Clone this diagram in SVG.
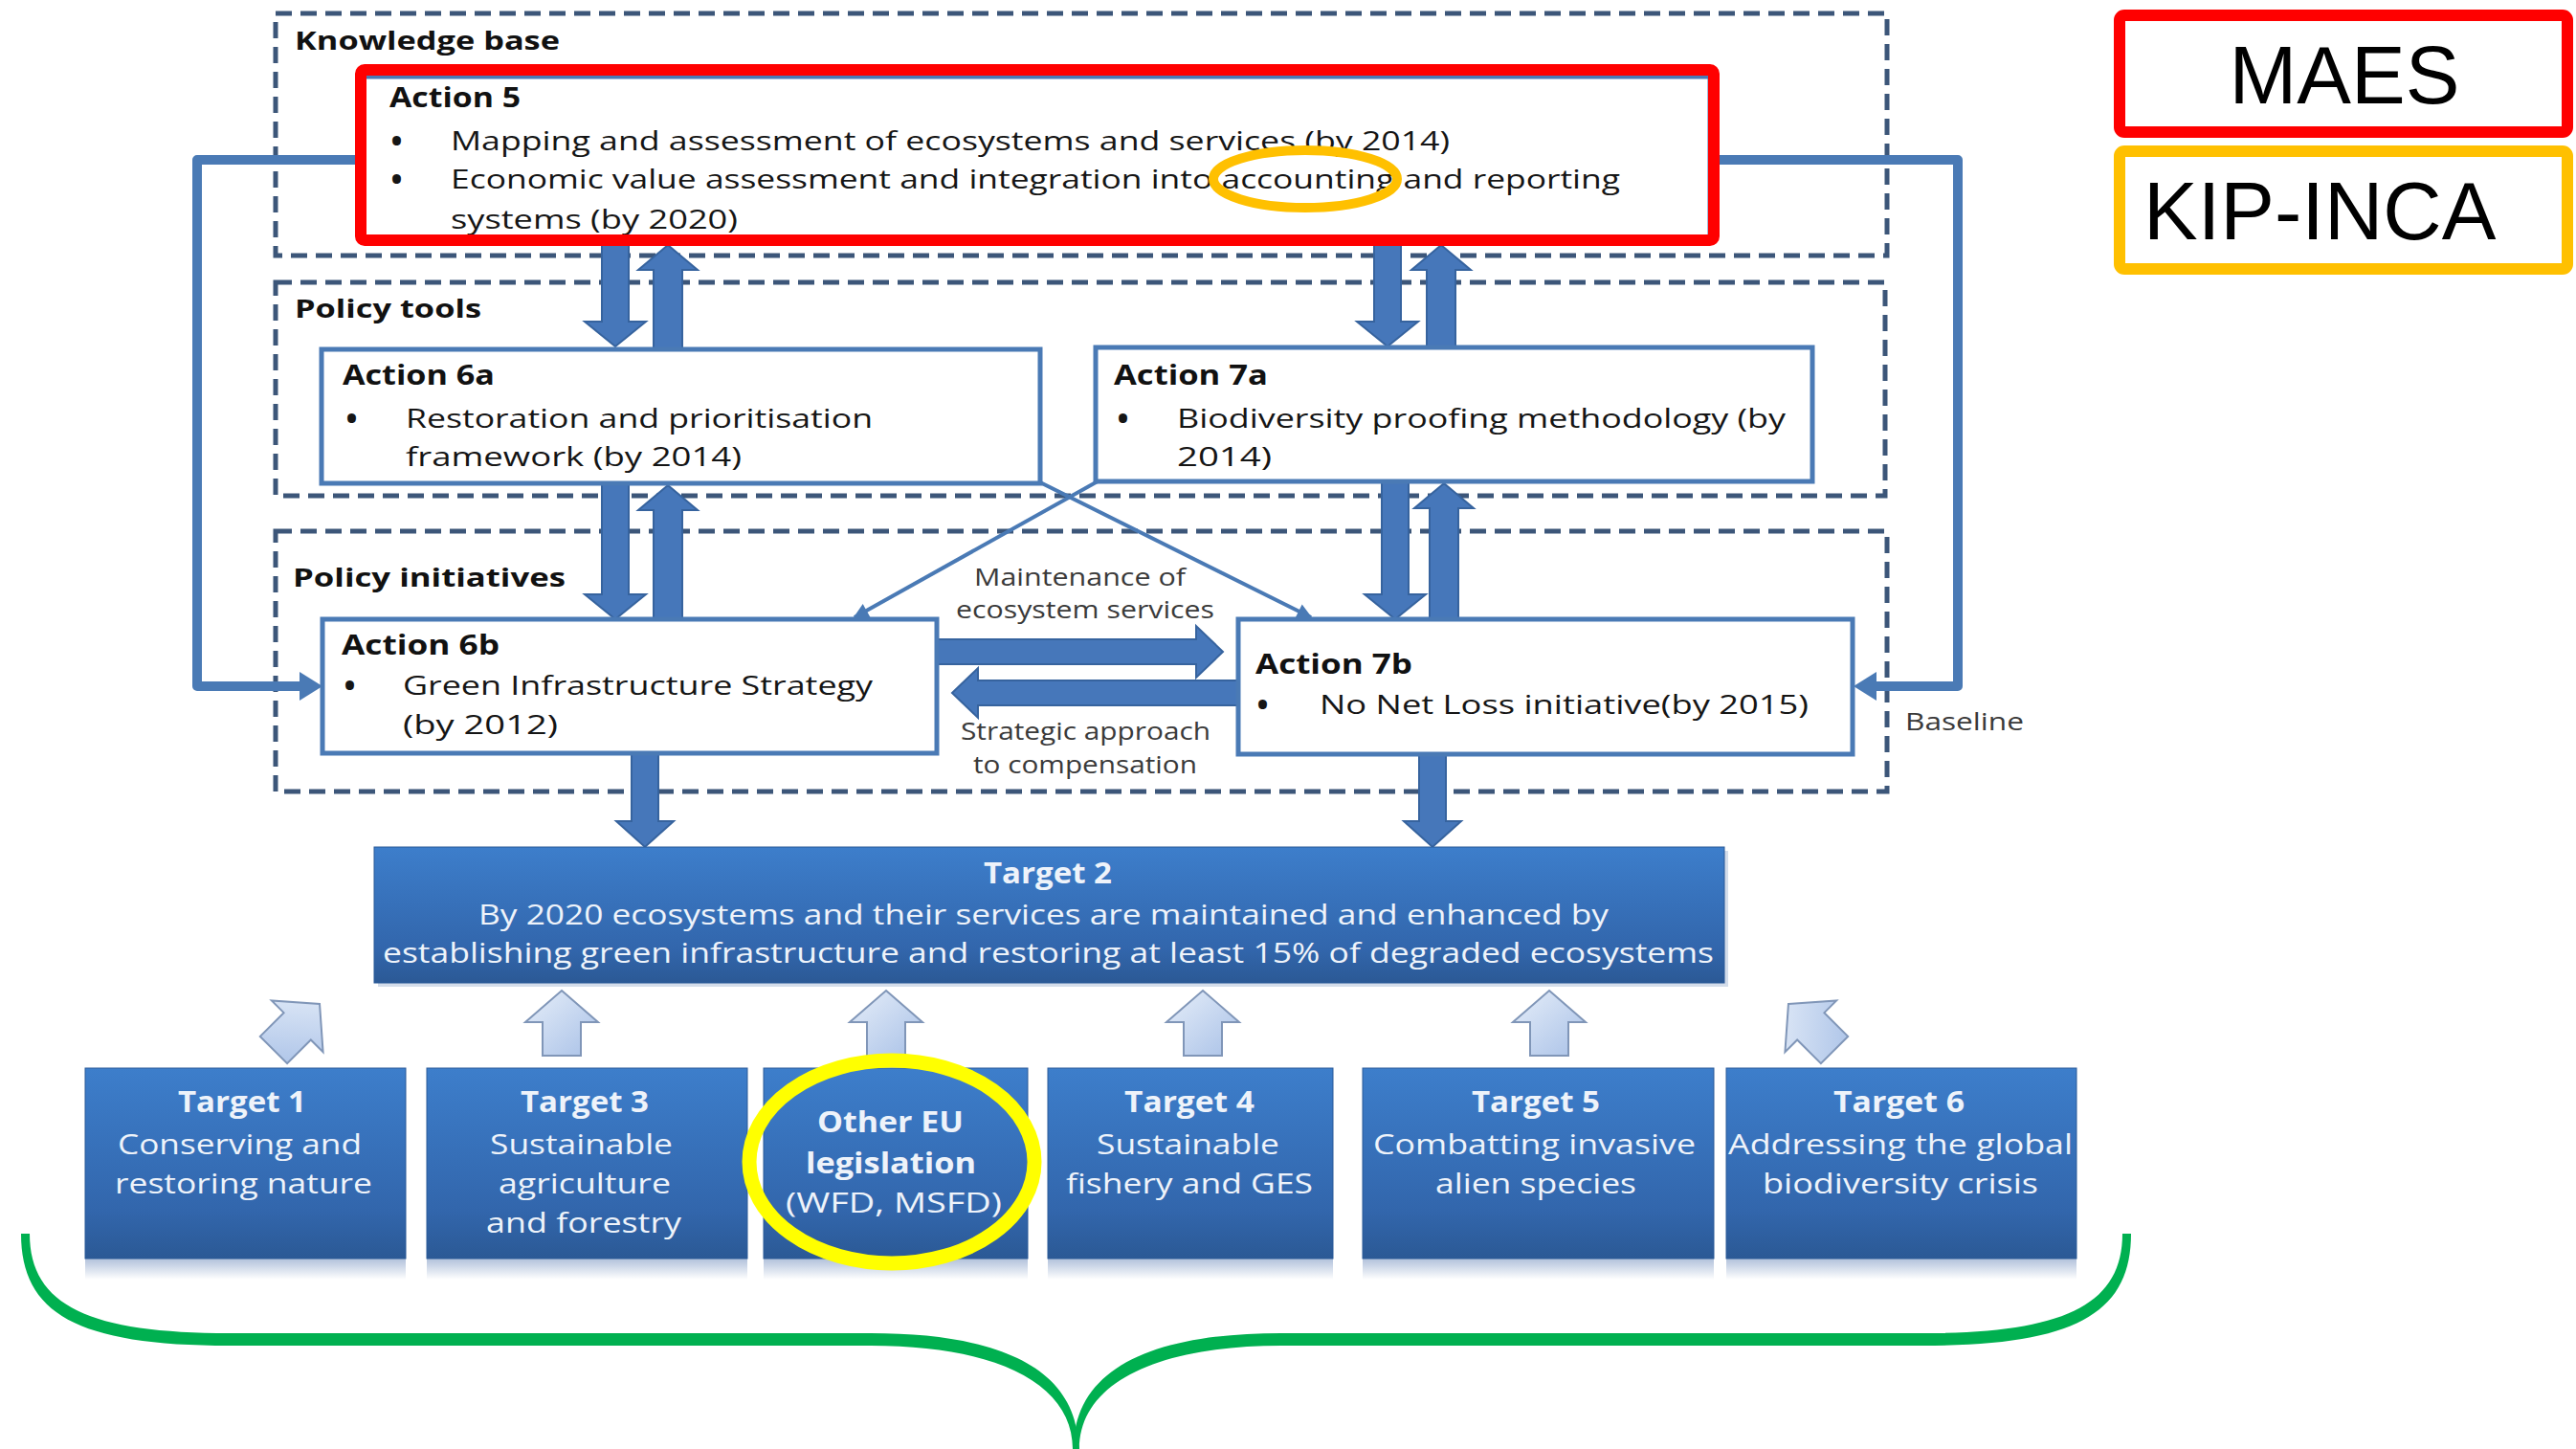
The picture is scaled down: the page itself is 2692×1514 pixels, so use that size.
<svg xmlns="http://www.w3.org/2000/svg" xmlns:xlink="http://www.w3.org/1999/xlink" width="2692" height="1514" viewBox="0 0 2692 1514">
<defs>
<style>
.dash{fill:none;stroke:#3C5679;stroke-width:5;stroke-dasharray:17 9}
.abox{fill:#fff;stroke:#4A7AB5;stroke-width:5}
.sec{font-family:"Open Sans",sans-serif;font-weight:700;font-size:27px;fill:#111}
.ttl{font-family:"Open Sans",sans-serif;font-weight:700;font-size:28px;fill:#111}
.bd{font-family:"Open Sans",sans-serif;font-size:28px;fill:#151515}
.bul{font-family:"Open Sans",sans-serif;font-size:28px;font-weight:800;fill:#151515}
.sm{font-family:"Open Sans",sans-serif;font-size:25px;fill:#3a3a3a}
.tt{font-family:"Open Sans",sans-serif;font-weight:700;font-size:30px;fill:#eef3fa}
.tb{font-family:"Open Sans",sans-serif;font-size:30px;fill:#eef3fa}
.blk{fill:#4677BA;stroke:#36639E;stroke-width:2}
.loop{fill:none;stroke:#4A7AB5;stroke-width:10;stroke-linejoin:round}
.thin{fill:none;stroke:#4A7AB5;stroke-width:4;marker-end:url(#ah)}
.tbox{fill:url(#tg);stroke:#2b5a98;stroke-width:1}
.up{fill:url(#ug);stroke:#8096b8;stroke-width:2}
.lbl{font-family:"Liberation Sans",Arial,sans-serif;font-size:85px;fill:#000}
</style>
<linearGradient id="tg" x1="0" y1="0" x2="0" y2="1">
<stop offset="0" stop-color="#3D7ECB"/>
<stop offset="0.75" stop-color="#3266AC"/>
<stop offset="1" stop-color="#2B5995"/>
</linearGradient>
<linearGradient id="rf" x1="0" y1="0" x2="0" y2="1">
<stop offset="0" stop-color="#8FA6CB"/>
<stop offset="1" stop-color="#ffffff"/>
</linearGradient>
<linearGradient id="ug" x1="0" y1="0" x2="1" y2="1">
<stop offset="0" stop-color="#E6EEF9"/>
<stop offset="1" stop-color="#A9C1E7"/>
</linearGradient>
<marker id="ah" viewBox="0 0 10 10" refX="9" refY="5" markerWidth="18" markerHeight="16" markerUnits="userSpaceOnUse" orient="auto">
<path d="M0,0 L10,5 L0,10 z" fill="#4A7AB5"/>
</marker>
<path id="uparrow" d="M0,-34 L38,-1 L20,-1 L20,34 L-20,34 L-20,-1 L-38,-1 Z"/>
<path id="braceL" d="M22,1289 C22,1372 80,1406 240,1406 L910,1406 C1040,1406 1121,1445 1121,1514 L1127,1514 C1127,1430 1045,1393 910,1393 L240,1393 C95,1393 31,1365 31,1289 Z"/>
</defs>
<rect width="2692" height="1514" fill="#fff"/>

<g id="group-knowledge-base">
<rect class="dash" x="288" y="14" width="1684" height="253"/>
<text class="sec" x="308" y="52" textLength="277" lengthAdjust="spacingAndGlyphs">Knowledge base</text>
</g>
<g id="group-policy-tools">
<rect class="dash" x="288" y="295" width="1682" height="223"/>
<text class="sec" x="308" y="332" textLength="195" lengthAdjust="spacingAndGlyphs">Policy tools</text>
</g>
<g id="group-policy-initiatives">
<rect class="dash" x="288" y="555" width="1684" height="272"/>
<text class="sec" x="306" y="613" textLength="285" lengthAdjust="spacingAndGlyphs">Policy initiatives</text>
</g>

<g id="connectors">
<path class="loop" d="M380,167 L206,167 L206,717 L318,717"/>
<polygon points="337,717 313,702 313,732" fill="#4A7AB5"/>
<path class="loop" d="M1797,167 L2046,167 L2046,717 L1956,717"/>
<polygon points="1937,717 1961,702 1961,732" fill="#4A7AB5"/>
<line class="thin" x1="1085" y1="503" x2="1370" y2="645"/>
<line class="thin" x1="1147" y1="503" x2="893" y2="645"/>
<polygon class="blk" points="629,252 657,252 657,336 675,336 643,362 611,336 629,336"/>
<polygon class="blk" points="683,365 713,365 713,282 729,282 698,256 667,282 683,282"/>
<polygon class="blk" points="1436,252 1464,252 1464,336 1482,336 1450,362 1418,336 1436,336"/>
<polygon class="blk" points="1491,363 1521,363 1521,282 1537,282 1506,256 1475,282 1491,282"/>
<polygon class="blk" points="629,505 657,505 657,621 675,621 643,647 611,621 629,621"/>
<polygon class="blk" points="683,647 713,647 713,533 729,533 698,507 667,533 683,533"/>
<polygon class="blk" points="1444,503 1472,503 1472,621 1490,621 1458,647 1426,621 1444,621"/>
<polygon class="blk" points="1494,647 1524,647 1524,531 1540,531 1509,505 1478,531 1494,531"/>
<polygon class="blk" points="660,787 688,787 688,858 704,858 674,885 644,858 660,858"/>
<polygon class="blk" points="1483,787 1511,787 1511,858 1527,858 1497,885 1467,858 1483,858"/>
<polygon class="blk" points="980,668 1250,668 1250,654 1278,681 1250,708 1250,694 980,694"/>
<polygon class="blk" points="1293,711 1022,711 1022,698 995,724 1022,750 1022,737 1293,737"/>
<use href="#uparrow" class="up" transform="translate(310,1073) rotate(45)"/>
<use href="#uparrow" class="up" transform="translate(587,1069)"/>
<use href="#uparrow" class="up" transform="translate(926,1069)"/>
<use href="#uparrow" class="up" transform="translate(1257,1069)"/>
<use href="#uparrow" class="up" transform="translate(1619,1069)"/>
<use href="#uparrow" class="up" transform="translate(1893,1073) rotate(-45)"/>
</g>

<g id="connector-labels">
<text class="sm" x="1018" y="612" textLength="221" lengthAdjust="spacingAndGlyphs">Maintenance of</text>
<text class="sm" x="999" y="646" textLength="270" lengthAdjust="spacingAndGlyphs">ecosystem services</text>
<text class="sm" x="1004" y="773" textLength="261" lengthAdjust="spacingAndGlyphs">Strategic approach</text>
<text class="sm" x="1017" y="808" textLength="234" lengthAdjust="spacingAndGlyphs">to compensation</text>
<text class="sm" x="1991" y="763" textLength="124" lengthAdjust="spacingAndGlyphs">Baseline</text>
</g>

<g id="node-action5">
<rect class="abox" x="380" y="80" width="1407" height="168"/>
<text class="ttl" x="407" y="112" textLength="137" lengthAdjust="spacingAndGlyphs">Action 5</text>
<text class="bul" x="409" y="158">•</text>
<text class="bd" x="471" y="157" textLength="1044" lengthAdjust="spacingAndGlyphs">Mapping and assessment of ecosystems and services (by 2014)</text>
<text class="bul" x="409" y="198">•</text>
<text class="bd" x="471" y="197" textLength="1222" lengthAdjust="spacingAndGlyphs">Economic value assessment and integration into accounting and reporting</text>
<text class="bd" x="471" y="239" textLength="300" lengthAdjust="spacingAndGlyphs">systems (by 2020)</text>
<rect x="377" y="73" width="1414" height="178" rx="4" fill="none" stroke="#FF0000" stroke-width="12"/>
<ellipse cx="1364" cy="187" rx="96" ry="30" fill="none" stroke="#FFC000" stroke-width="10"/>
</g>

<g id="node-action6a">
<rect class="abox" x="336" y="365" width="751" height="140"/>
<text class="ttl" x="358" y="402" textLength="159" lengthAdjust="spacingAndGlyphs">Action 6a</text>
<text class="bul" x="362" y="448">•</text>
<text class="bd" x="424" y="447" textLength="488" lengthAdjust="spacingAndGlyphs">Restoration and prioritisation</text>
<text class="bd" x="424" y="487" textLength="351" lengthAdjust="spacingAndGlyphs">framework (by 2014)</text>
</g>

<g id="node-action7a">
<rect class="abox" x="1145" y="363" width="749" height="140"/>
<text class="ttl" x="1164" y="402" textLength="161" lengthAdjust="spacingAndGlyphs">Action 7a</text>
<text class="bul" x="1168" y="448">•</text>
<text class="bd" x="1230" y="447" textLength="636" lengthAdjust="spacingAndGlyphs">Biodiversity proofing methodology (by</text>
<text class="bd" x="1230" y="487" textLength="99" lengthAdjust="spacingAndGlyphs">2014)</text>
</g>

<g id="node-action6b">
<rect class="abox" x="337" y="647" width="642" height="140"/>
<text class="ttl" x="357" y="684" textLength="165" lengthAdjust="spacingAndGlyphs">Action 6b</text>
<text class="bul" x="360" y="727">•</text>
<text class="bd" x="421" y="726" textLength="491" lengthAdjust="spacingAndGlyphs">Green Infrastructure Strategy</text>
<text class="bd" x="421" y="767" textLength="162" lengthAdjust="spacingAndGlyphs">(by 2012)</text>
</g>

<g id="node-action7b">
<rect class="abox" x="1294" y="647" width="642" height="141"/>
<text class="ttl" x="1312" y="704" textLength="164" lengthAdjust="spacingAndGlyphs">Action 7b</text>
<text class="bul" x="1314" y="747">•</text>
<text class="bd" x="1379" y="746" textLength="511" lengthAdjust="spacingAndGlyphs">No Net Loss initiative(by 2015)</text>
</g>

<g id="node-target2">
<rect x="395" y="889" width="1411" height="142" fill="#b7c6dc" opacity="0.6"/>
<rect class="tbox" x="391" y="885" width="1411" height="142"/>
<text class="tt" x="1028" y="923" textLength="134" lengthAdjust="spacingAndGlyphs">Target 2</text>
<text class="tb" x="500" y="966" textLength="1181" lengthAdjust="spacingAndGlyphs">By 2020 ecosystems and their services are maintained and enhanced by</text>
<text class="tb" x="400" y="1006" textLength="1391" lengthAdjust="spacingAndGlyphs">establishing green infrastructure and restoring at least 15% of degraded ecosystems</text>
</g>

<g id="node-target1">
<rect x="89" y="1315" width="335" height="22" fill="url(#rf)" opacity="0.7"/>
<rect class="tbox" x="89" y="1116" width="335" height="199"/>
<text class="tt" x="186" y="1162" textLength="134" lengthAdjust="spacingAndGlyphs">Target 1</text>
<text class="tb" x="123" y="1206" textLength="255" lengthAdjust="spacingAndGlyphs">Conserving and</text>
<text class="tb" x="120" y="1247" textLength="269" lengthAdjust="spacingAndGlyphs">restoring nature</text>
</g>

<g id="node-target3">
<rect x="446" y="1315" width="335" height="22" fill="url(#rf)" opacity="0.7"/>
<rect class="tbox" x="446" y="1116" width="335" height="199"/>
<text class="tt" x="544" y="1162" textLength="134" lengthAdjust="spacingAndGlyphs">Target 3</text>
<text class="tb" x="512" y="1206" textLength="191" lengthAdjust="spacingAndGlyphs">Sustainable</text>
<text class="tb" x="521" y="1247" textLength="180" lengthAdjust="spacingAndGlyphs">agriculture</text>
<text class="tb" x="508" y="1288" textLength="204" lengthAdjust="spacingAndGlyphs">and forestry</text>
</g>

<g id="node-other-eu">
<rect x="798" y="1315" width="276" height="22" fill="url(#rf)" opacity="0.7"/>
<rect class="tbox" x="798" y="1116" width="276" height="199"/>
<text class="tt" x="854" y="1183" textLength="153" lengthAdjust="spacingAndGlyphs">Other EU</text>
<text class="tt" x="842" y="1226" textLength="178" lengthAdjust="spacingAndGlyphs">legislation</text>
<text class="tb" x="821" y="1267" textLength="226" lengthAdjust="spacingAndGlyphs">(WFD, MSFD)</text>
<ellipse cx="932" cy="1214" rx="149" ry="106" fill="none" stroke="#FFFF00" stroke-width="15"/>
</g>

<g id="node-target4">
<rect x="1095" y="1315" width="298" height="22" fill="url(#rf)" opacity="0.7"/>
<rect class="tbox" x="1095" y="1116" width="298" height="199"/>
<text class="tt" x="1175" y="1162" textLength="136" lengthAdjust="spacingAndGlyphs">Target 4</text>
<text class="tb" x="1146" y="1206" textLength="191" lengthAdjust="spacingAndGlyphs">Sustainable</text>
<text class="tb" x="1114" y="1247" textLength="258" lengthAdjust="spacingAndGlyphs">fishery and GES</text>
</g>

<g id="node-target5">
<rect x="1424" y="1315" width="367" height="22" fill="url(#rf)" opacity="0.7"/>
<rect class="tbox" x="1424" y="1116" width="367" height="199"/>
<text class="tt" x="1538" y="1162" textLength="134" lengthAdjust="spacingAndGlyphs">Target 5</text>
<text class="tb" x="1435" y="1206" textLength="337" lengthAdjust="spacingAndGlyphs">Combatting invasive</text>
<text class="tb" x="1500" y="1247" textLength="210" lengthAdjust="spacingAndGlyphs">alien species</text>
</g>

<g id="node-target6">
<rect x="1804" y="1315" width="366" height="22" fill="url(#rf)" opacity="0.7"/>
<rect class="tbox" x="1804" y="1116" width="366" height="199"/>
<text class="tt" x="1916" y="1162" textLength="137" lengthAdjust="spacingAndGlyphs">Target 6</text>
<text class="tb" x="1806" y="1206" textLength="360" lengthAdjust="spacingAndGlyphs">Addressing the global</text>
<text class="tb" x="1842" y="1247" textLength="288" lengthAdjust="spacingAndGlyphs">biodiversity crisis</text>
</g>

<g id="brace">
<use href="#braceL" fill="#00B050"/>
<use href="#braceL" fill="#00B050" transform="translate(2249,0) scale(-1,1)"/>
</g>

<g id="legend-maes">
<rect x="2215" y="16" width="468" height="122" rx="5" fill="#fff" stroke="#FF0000" stroke-width="12"/>
<text class="lbl" x="2450" y="108" text-anchor="middle">MAES</text>
</g>
<g id="legend-kip-inca">
<rect x="2215" y="158" width="468" height="123" rx="5" fill="#fff" stroke="#FFC000" stroke-width="12"/>
<text class="lbl" x="2240" y="250">KIP-INCA</text>
</g>
</svg>
